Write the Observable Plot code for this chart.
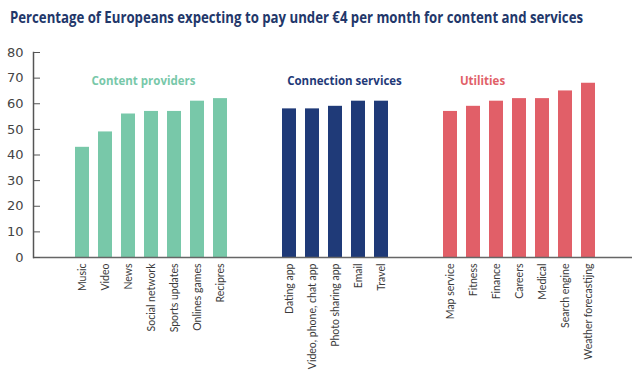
<!DOCTYPE html>
<html><head><meta charset="utf-8">
<script src="https://cdn.jsdelivr.net/npm/d3@7"></script>
<script src="https://cdn.jsdelivr.net/npm/@observablehq/plot@0.6"></script>
<style>
body{margin:0;background:#fff;width:640px;height:379px;overflow:hidden;position:relative}
#title{position:absolute;left:10px;top:6px;font-family:"Open Sans";font-weight:700;font-size:16px;color:#22376a;white-space:nowrap;transform-origin:left top}
#chart{position:absolute;left:0;top:40px}
</style></head><body>
<div id="title">Percentage of Europeans expecting to pay under €4 per month for content and services</div>
<div id="chart"></div>
<script>
const groupNames = ["Content providers", "Connection services", "Utilities"];
const groupColors = ["#78c8a9", "#1f3a78", "#e15f68"];

const contentCats = ["Music", "Video", "News", "Social network", "Sports updates", "Onlines games", "Recipres"];
const contentVals = [43, 49, 56, 57, 57, 61, 62];

const connectionCats = ["Dating app", "Video, phone, chat app", "Photo sharing app", "Email", "Travel"];
const connectionVals = [58, 58, 59, 61, 61];

const utilityCats = ["Map service", "Fitness", "Finance", "Careers", "Medical", "Search engine", "Weather forecastijng"];
const utilityVals = [57, 59, 61, 62, 62, 65, 68];

const yTicks = [0, 10, 20, 30, 40, 50, 60, 70, 80];

// group label anchors (category near which each label sits)
const groupLabelAnchors = ["Social network", "Photo sharing app", "Fitness"];

const spacers = ["\u200b1", "\u200b2", "\u200b3", "\u200b4"];
const isSpacer = d => spacers.includes(d);

const data = [
  ...contentCats.map((c, i) => ({category: c, value: contentVals[i], group: groupNames[0]})),
  ...connectionCats.map((c, i) => ({category: c, value: connectionVals[i], group: groupNames[1]})),
  ...utilityCats.map((c, i) => ({category: c, value: utilityVals[i], group: groupNames[2]}))
];
const xDomain = [...contentCats, spacers[0], spacers[1], ...connectionCats, spacers[2], spacers[3], ...utilityCats];

const labelNudges = [-8, 9, 9];
const labelMarks = groupNames.map((g, i) =>
  Plot.text([{text: g, category: groupLabelAnchors[i], group: g}], {
    x: "category", frameAnchor: "top", dy: 24, dx: labelNudges[i],
    text: "text", fill: "group", fontFamily: "Open Sans", fontWeight: 700, fontSize: 11.5
  })
);

const plot = Plot.plot({
  width: 640,
  height: 339,
  marginTop: 12,
  marginBottom: 122,
  marginLeft: 33,
  marginRight: 8,
  style: {fontFamily: "Lato", fontSize: "10px", color: "#3a3a3a", background: "#fff"},
  x: {domain: xDomain, range: [70, 600], paddingInner: 0.4, paddingOuter: 0, label: null},
  y: {domain: [0, 80], label: null},
  color: {domain: groupNames, range: groupColors},
  marks: [
    Plot.barY(data, {x: "category", y: "value", fill: "group"}),
    Plot.ruleY([0], {stroke: "#666", strokeWidth: 1.5}),
    Plot.frame({anchor: "left", stroke: "#555", strokeWidth: 1.5}),
    Plot.axisY({ticks: yTicks, tickSize: -7, tickPadding: 17, stroke: "#555", fontFamily: "DejaVu Sans", fontSize: 13, fill: "#444", label: null}),
    Plot.axisX({tickRotate: -90, tickSize: 0, tickPadding: 6, tickFormat: d => isSpacer(d) ? "" : d, fontSize: 10.5, fill: "#3a3a3a", label: null}),
    ...labelMarks
  ]
});
document.getElementById("chart").appendChild(plot);

// fit title width
const t = document.getElementById("title");
const w = t.getBoundingClientRect().width;
t.style.transform = `scaleX(${573 / w})`;
</script>
</body></html>
